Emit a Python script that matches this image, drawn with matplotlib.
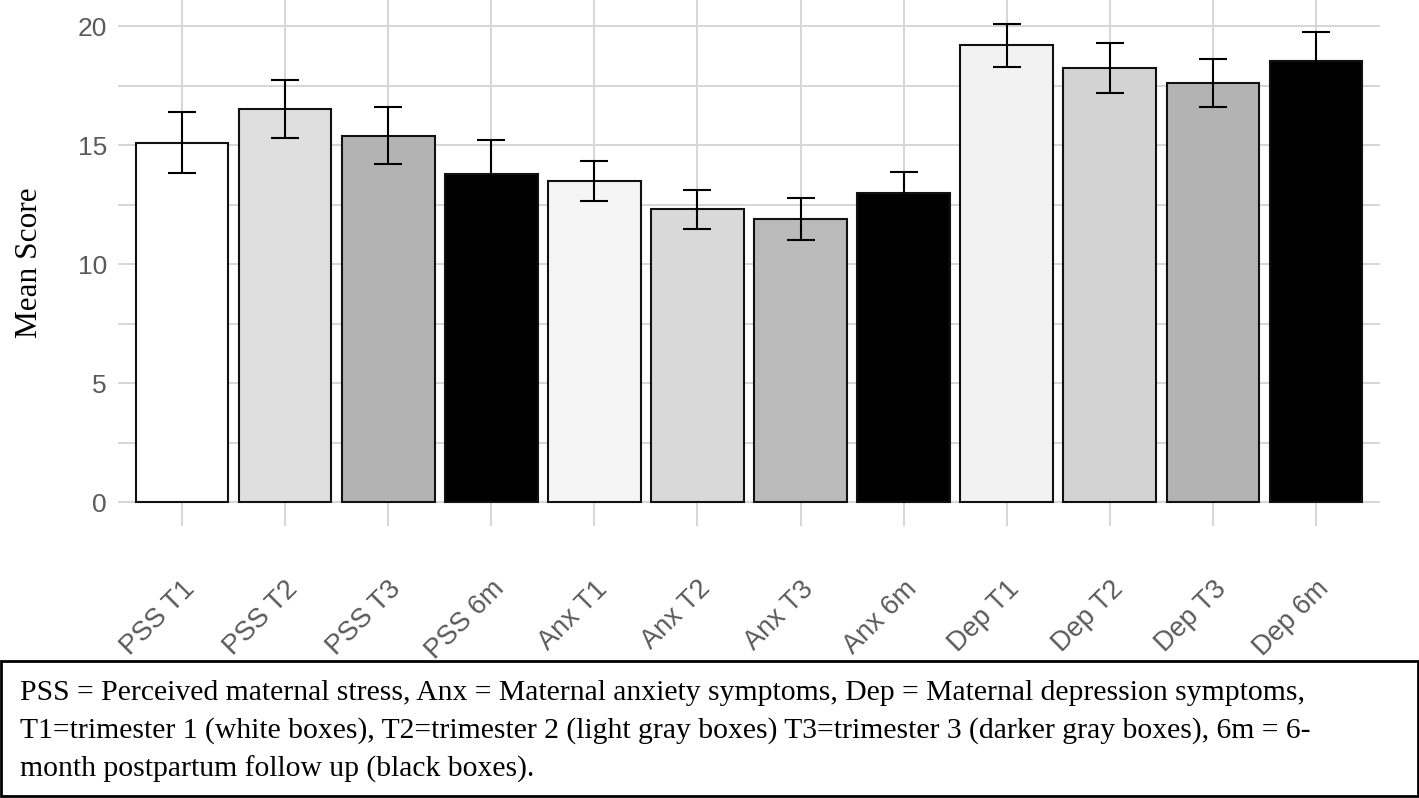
import matplotlib.pyplot as plt
from matplotlib.patches import Rectangle

labels = ['PSS T1', 'PSS T2', 'PSS T3', 'PSS 6m',
          'Anx T1', 'Anx T2', 'Anx T3', 'Anx 6m',
          'Dep T1', 'Dep T2', 'Dep T3', 'Dep 6m']
means = [15.1, 16.5, 15.4, 13.8, 13.5, 12.3, 11.9, 13.0, 19.2, 18.25, 17.6, 18.55]
errors = [1.28, 1.22, 1.2, 1.43, 0.84, 0.82, 0.9, 0.87, 0.9, 1.05, 1.0, 1.2]
colors = ['#ffffff', '#dfdfdf', '#b3b3b3', '#000000',
          '#f5f5f5', '#d9d9d9', '#bababa', '#000000',
          '#f2f2f2', '#d3d3d3', '#b3b3b3', '#000000']

caption = ("PSS = Perceived maternal stress, Anx = Maternal anxiety symptoms, Dep = Maternal depression symptoms,\n"
           "T1=trimester 1 (white boxes), T2=trimester 2 (light gray boxes) T3=trimester 3 (darker gray boxes), 6m = 6-\n"
           "month postpartum follow up (black boxes).")

fig = plt.figure(figsize=(14.19, 7.98), dpi=100)
ax = fig.add_axes([0.0832, 0.341, 0.8893, 0.659])

x = range(len(labels))
ax.bar(x, means, width=0.9, color=colors, edgecolor='#111111', linewidth=1.5, zorder=3)
ax.errorbar(x, means, yerr=errors, fmt='none', ecolor='black', elinewidth=1.5,
            capsize=10, capthick=1.5, zorder=4)

ax.set_xlim(-0.62, 11.62)
ax.set_ylim(-1.0, 21.1)
ax.set_yticks([0, 5, 10, 15, 20])
ax.set_yticks([2.5, 7.5, 12.5, 17.5], minor=True)
ax.set_xticks(list(x))
ax.set_xticklabels(labels, rotation=45, ha='right', rotation_mode='anchor')
ax.tick_params(axis='both', length=0, labelcolor='#5a5a5a')
ax.tick_params(axis='x', pad=36, labelsize=19.5)
ax.tick_params(axis='y', pad=8, labelsize=19)
ax.tick_params(which='minor', length=0)
for lab in ax.get_xticklabels() + ax.get_yticklabels():
    lab.set_family('Liberation Sans')
ax.grid(True, which='both', color='#d6d6d6', linewidth=1.4, zorder=0)
for s in ax.spines.values():
    s.set_visible(False)
ax.set_ylabel('Mean Score', family='Liberation Serif', fontsize=22.5, labelpad=24)

fig.patches.append(Rectangle((0.001, 0.002), 0.998, 0.17, transform=fig.transFigure,
                             fill=False, edgecolor='black', linewidth=2))
fig.text(0.014, 0.148, caption, family='Liberation Serif', fontsize=21.3,
         va='top', ha='left', linespacing=1.55)

plt.savefig('out.png', dpi=100)
